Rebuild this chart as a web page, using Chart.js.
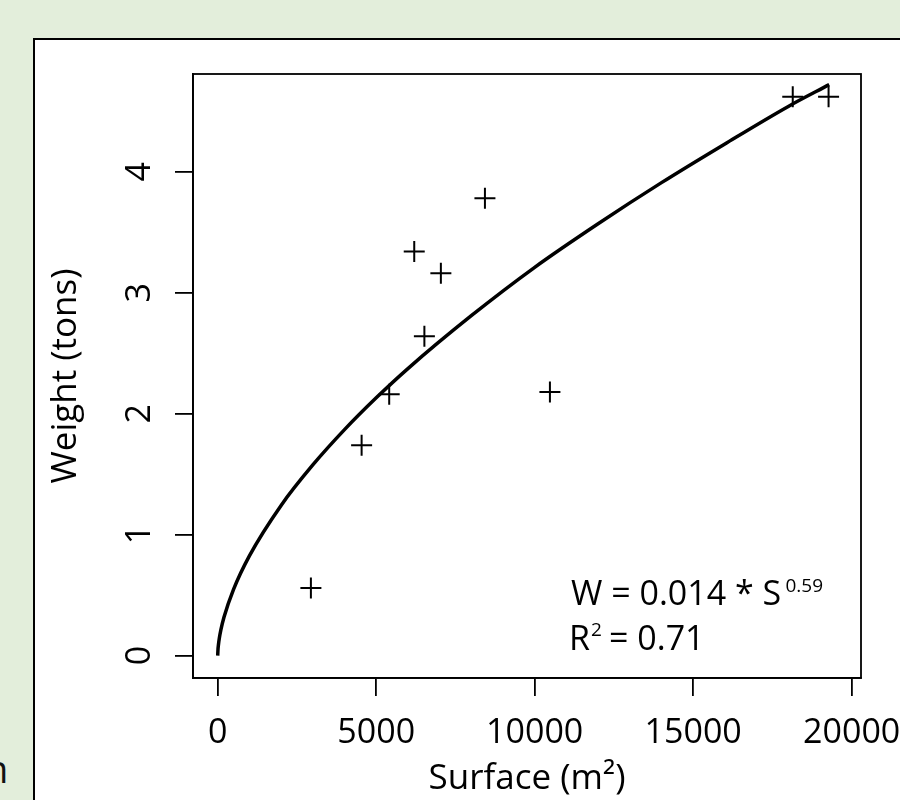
<!DOCTYPE html>
<html>
<head>
<meta charset="utf-8">
<title>Weight vs surface</title>
<script src="https://cdn.jsdelivr.net/npm/chart.js@4.4.0/dist/chart.umd.min.js"></script>
<style>
  html, body { margin: 0; padding: 0; }
  body {
    width: 900px; height: 800px; overflow: hidden; position: relative;
    background: #e3eedb; font-family: "Open Sans", sans-serif;
  }
  #panel {
    position: absolute; left: 33px; top: 38px; width: 900px; height: 800px;
    background: #fff; border-left: 2px solid #000; border-top: 2px solid #000;
  }
  #edge { position: absolute; left: -15px; top: 749px; font-size: 38px; line-height: 1; color: #111; }
  #wrap { position: absolute; left: 0; top: 0; width: 900px; height: 800px; }
</style>
</head>
<body>
<div id="edge">n</div>
<div id="panel"></div>
<div id="wrap"><canvas id="scatter-chart"></canvas></div>
<script>
// observed crosses (surface in m2, weight in tons)
var surface = [2940, 4540, 5410, 6200, 6520, 7040, 8430, 10480, 18140, 19270];
var weight = [0.56, 1.74, 2.16, 3.34, 2.64, 3.16, 3.78, 2.18, 4.62, 4.62];

// fitted curve W = 0.014 * S^0.59
var curveS = [0, 10, 20, 50, 100, 200, 500, 1000, 2000, 3000, 4000, 5000, 6000, 8000, 10000, 12000, 14000, 16000, 18000, 19290];
var curveW = [0, 0.054, 0.082, 0.141, 0.212, 0.319, 0.548, 0.825, 1.242, 1.576, 1.868, 2.131, 2.373, 2.81, 3.21, 3.57, 3.91, 4.23, 4.54, 4.72];

var xTicks = [0, 5000, 10000, 15000, 20000];
var yTicks = [0, 1, 2, 3, 4];

var FONT = "'Open Sans', sans-serif";

// box round the plot, rotated y labels, fit text
var frame = {
    id: 'frame',
    afterDraw: function (chart) {
        var ctx = chart.ctx, a = chart.chartArea, ys = chart.scales.y;
        ctx.save();
        ctx.strokeStyle = '#000';
        ctx.lineWidth = 1.8;
        ctx.strokeRect(a.left, a.top, a.right - a.left, a.bottom - a.top);

        ctx.fillStyle = '#000';
        ctx.font = '34px ' + FONT;
        ctx.textAlign = 'center';
        ctx.textBaseline = 'alphabetic';
        yTicks.forEach(function (v) {
            ctx.save();
            ctx.translate(ys.right - 43, ys.getPixelForValue(v));
            ctx.rotate(-Math.PI / 2);
            ctx.fillText(String(v), 0, 0);
            ctx.restore();
        });

        ctx.textAlign = 'left';
        ctx.fillText('W = 0.014 * S', 571, 605);
        ctx.fillText('R', 569, 650);
        ctx.fillText('= 0.71', 609, 650);
        ctx.font = '19px ' + FONT;
        ctx.fillText('0.59', 785.5, 591.7);
        ctx.fillText('2', 591, 636);
        ctx.restore();
    }
};

new Chart(document.getElementById('scatter-chart'), {
    type: 'scatter',
    data: {
        datasets: [{
            label: 'fit',
            data: curveS.map(function (s, i) { return {x: s, y: curveW[i]}; }),
            showLine: true,
            borderColor: '#000',
            borderWidth: 3.5,
            pointRadius: 0,
            cubicInterpolationMode: 'monotone',
            fill: false
        }, {
            label: 'observed',
            data: surface.map(function (s, i) { return {x: s, y: weight[i]}; }),
            pointStyle: 'cross',
            pointRadius: 10.5,
            pointHoverRadius: 10.5,
            borderColor: '#000',
            backgroundColor: '#000',
            borderWidth: 2
        }]
    },
    options: {
        responsive: true,
        maintainAspectRatio: false,
        animation: false,
        events: [],
        layout: {padding: {left: 0, top: 74, right: 39, bottom: 0}},
        plugins: {legend: {display: false}, tooltip: {enabled: false}},
        scales: {
            x: {
                type: 'linear',
                position: 'bottom',
                min: -779,
                max: 20293,
                afterBuildTicks: function (s) { s.ticks = xTicks.map(function (v) { return {value: v}; }); },
                afterFit: function (s) { s.height = 122; s.paddingLeft = 0; s.paddingRight = 0; },
                ticks: {
                    color: '#000', padding: 17, maxRotation: 0, autoSkip: false,
                    font: {family: FONT, size: 34},
                    callback: function (v) { return String(v); }
                },
                grid: {display: true, drawOnChartArea: false, drawTicks: true, tickLength: 18, color: '#000', lineWidth: 1.8},
                border: {display: true, color: '#000', width: 1.8},
                title: {display: true, text: 'Surface (m²)', color: '#000', font: {family: FONT, size: 35}, padding: {top: 0, bottom: 0}}
            },
            y: {
                type: 'linear',
                min: -0.185,
                max: 4.808,
                afterBuildTicks: function (s) { s.ticks = yTicks.map(function (v) { return {value: v}; }); },
                afterFit: function (s) { s.width = 193; s.paddingTop = 0; s.paddingBottom = 0; },
                ticks: {display: false},
                grid: {display: true, drawOnChartArea: false, drawTicks: true, tickLength: 18, color: '#000', lineWidth: 1.8},
                border: {display: true, color: '#000', width: 1.8},
                title: {display: true, text: 'Weight (tons)', color: '#000', font: {family: FONT, size: 35}, padding: {top: 45, bottom: 0}}
            }
        }
    },
    plugins: [frame]
});
</script>
</body>
</html>
